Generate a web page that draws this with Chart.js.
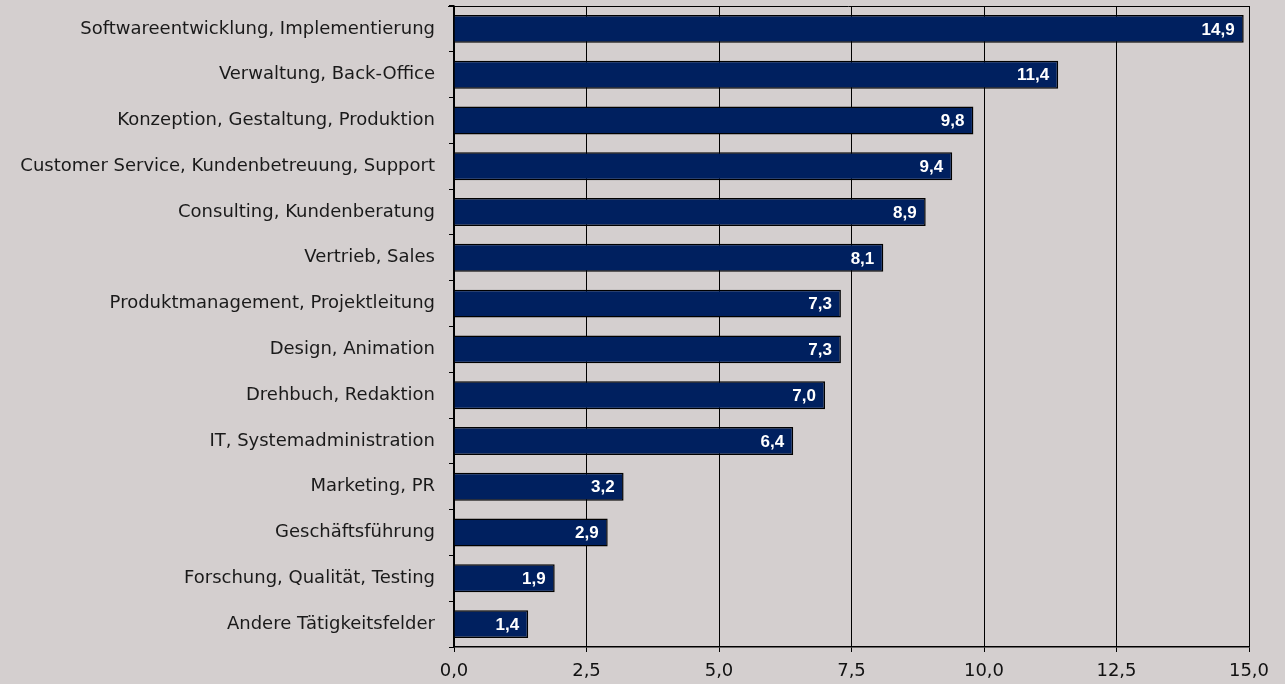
<!DOCTYPE html>
<html>
<head>
<meta charset="utf-8">
<script src="https://cdn.jsdelivr.net/npm/chart.js@4/dist/chart.umd.min.js"></script>
<style>
  html, body { margin: 0; padding: 0; background: #d4cfcf; }
  #wrap { width: 1285px; height: 684px; }
</style>
</head>
<body>
<div id="wrap"><canvas id="chart"></canvas></div>
<script>
// Tätigkeitsfelder (von oben nach unten)
const categories = [
    'Softwareentwicklung, Implementierung',
    'Verwaltung, Back-Office',
    'Konzeption, Gestaltung, Produktion',
    'Customer Service, Kundenbetreuung, Support',
    'Consulting, Kundenberatung',
    'Vertrieb, Sales',
    'Produktmanagement, Projektleitung',
    'Design, Animation',
    'Drehbuch, Redaktion',
    'IT, Systemadministration',
    'Marketing, PR',
    'Geschäftsführung',
    'Forschung, Qualität, Testing',
    'Andere Tätigkeitsfelder'
];

// Werte je Tätigkeitsfeld
const values = [14.9, 11.4, 9.8, 9.4, 8.9, 8.1, 7.3, 7.3, 7.0, 6.4, 3.2, 2.9, 1.9, 1.4];

// Achsenbeschriftung
const xTicks = [0, 2.5, 5, 7.5, 10, 12.5, 15];

const fontFamily = '"DejaVu Sans", "Liberation Sans", Arial, sans-serif';

function formatDe(v) {
    return Number(v).toFixed(1).replace('.', ',');
}

// Werte in die Balken schreiben + obere Rahmenlinie
const barLabels = {
    id: 'barLabels',
    afterDatasetsDraw(chart) {
        const ctx = chart.ctx;
        const meta = chart.getDatasetMeta(0);
        ctx.save();
        ctx.fillStyle = '#ffffff';
        ctx.font = 'bold 17px "Liberation Sans", Arial, sans-serif';
        ctx.textAlign = 'right';
        ctx.textBaseline = 'middle';
        meta.data.forEach((bar, i) => {
            ctx.fillText(formatDe(values[i]), bar.x - 9, bar.y + 1);
        });
        // obere Linie des Diagrammbereichs
        const a = chart.chartArea;
        ctx.strokeStyle = '#000000';
        ctx.lineWidth = 1;
        ctx.beginPath();
        ctx.moveTo(a.left - 6, a.top + 0.5);
        ctx.lineTo(a.right, a.top + 0.5);
        ctx.stroke();
        ctx.restore();
    }
};

new Chart(document.getElementById('chart'), {
    type: 'bar',
    data: {
        labels: categories,
        datasets: [{
            data: values,
            backgroundColor: '#00205f',
            borderColor: '#000000',
            borderWidth: 1.5,
            barPercentage: 0.61,
            categoryPercentage: 1.0
        }]
    },
    options: {
        indexAxis: 'y',
        responsive: true,
        maintainAspectRatio: false,
        animation: false,
        layout: {
            padding: { top: 6, right: 36, left: 0, bottom: 0 }
        },
        plugins: {
            legend: { display: false },
            tooltip: { enabled: false }
        },
        scales: {
            x: {
                min: 0,
                max: 15,
                afterBuildTicks: function(scale) {
                    scale.ticks = xTicks.map(v => ({ value: v }));
                },
                afterFit: function(scale) {
                    scale.height = 37;
                },
                ticks: {
                    callback: function(value) {
                        return formatDe(value);
                    },
                    color: '#111111',
                    padding: 9,
                    maxRotation: 0,
                    font: { family: fontFamily, size: 18 }
                },
                grid: {
                    color: '#000000',
                    lineWidth: 1,
                    drawTicks: true,
                    tickLength: 5
                },
                border: { color: '#000000', width: 1.5 }
            },
            y: {
                afterFit: function(scale) {
                    scale.width = 454;
                    scale.paddingTop = 0;
                    scale.paddingBottom = 0;
                },
                ticks: {
                    color: '#1a1a1a',
                    padding: 14,
                    autoSkip: false,
                    font: { family: fontFamily, size: 18 }
                },
                grid: {
                    offset: true,
                    drawOnChartArea: false,
                    drawTicks: true,
                    tickLength: 5,
                    color: '#000000'
                },
                border: { color: '#000000', width: 1.5 }
            }
        }
    },
    plugins: [barLabels]
});
</script>
</body>
</html>
